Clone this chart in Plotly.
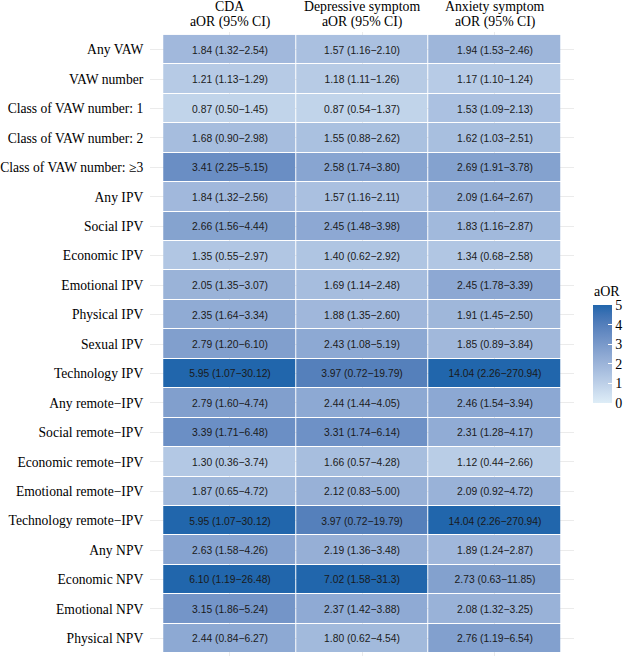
import numpy as np
import plotly.graph_objects as go

rows = ["Any VAW", "VAW number", "Class of VAW number: 1", "Class of VAW number: 2",
        "Class of VAW number: ≥3", "Any IPV", "Social IPV", "Economic IPV", "Emotional IPV",
        "Physical IPV", "Sexual IPV", "Technology IPV", "Any remote−IPV", "Social remote−IPV",
        "Economic remote−IPV", "Emotional remote−IPV", "Technology remote−IPV", "Any NPV",
        "Economic NPV", "Emotional NPV", "Physical NPV"]

column_titles = ["CDA", "Depressive symptom", "Anxiety symptom"]
column_subtitle = "aOR (95% CI)"

cda_aor = ["1.84", "1.21", "0.87", "1.68", "3.41", "1.84", "2.66", "1.35", "2.05", "2.35", "2.79",
           "5.95", "2.79", "3.39", "1.30", "1.87", "5.95", "2.63", "6.10", "3.15", "2.44"]
cda_lo = ["1.32", "1.13", "0.50", "0.90", "2.25", "1.32", "1.56", "0.55", "1.35", "1.64", "1.20",
          "1.07", "1.60", "1.71", "0.36", "0.65", "1.07", "1.58", "1.19", "1.86", "0.84"]
cda_hi = ["2.54", "1.29", "1.45", "2.98", "5.15", "2.56", "4.44", "2.97", "3.07", "3.34", "6.10",
          "30.12", "4.74", "6.48", "3.74", "4.72", "30.12", "4.26", "26.48", "5.24", "6.27"]

dep_aor = ["1.57", "1.18", "0.87", "1.55", "2.58", "1.57", "2.45", "1.40", "1.69", "1.88", "2.43",
           "3.97", "2.44", "3.31", "1.66", "2.12", "3.97", "2.19", "7.02", "2.37", "1.80"]
dep_lo = ["1.16", "1.11", "0.54", "0.88", "1.74", "1.16", "1.48", "0.62", "1.14", "1.35", "1.08",
          "0.72", "1.44", "1.74", "0.57", "0.83", "0.72", "1.36", "1.58", "1.42", "0.62"]
dep_hi = ["2.10", "1.26", "1.37", "2.62", "3.80", "2.11", "3.98", "2.92", "2.48", "2.60", "5.19",
          "19.79", "4.05", "6.14", "4.28", "5.00", "19.79", "3.48", "31.3", "3.88", "4.54"]

anx_aor = ["1.94", "1.17", "1.53", "1.62", "2.69", "2.09", "1.83", "1.34", "2.45", "1.91", "1.85",
           "14.04", "2.46", "2.31", "1.12", "2.09", "14.04", "1.89", "2.73", "2.08", "2.76"]
anx_lo = ["1.53", "1.10", "1.09", "1.03", "1.91", "1.64", "1.16", "0.68", "1.78", "1.45", "0.89",
          "2.26", "1.54", "1.28", "0.44", "0.92", "2.26", "1.24", "0.63", "1.32", "1.19"]
anx_hi = ["2.46", "1.24", "2.13", "2.51", "3.78", "2.67", "2.87", "2.58", "3.39", "2.50", "3.84",
          "270.94", "3.94", "4.17", "2.66", "4.72", "270.94", "2.87", "11.85", "3.25", "6.54"]

colorbar_ticks = [0, 1, 2, 3, 4, 5]

# ---- build matrices ----
series = [(cda_aor, cda_lo, cda_hi), (dep_aor, dep_lo, dep_hi), (anx_aor, anx_lo, anx_hi)]
z = np.array([[float(s[0][i]) for s in series] for i in range(len(rows))])
z = np.clip(z, 0, 5)
text = [[f"{s[0][i]} ({s[1][i]}\u2212{s[2][i]})" for s in series] for i in range(len(rows))]

# ---- Lab-interpolated colour scale (ggplot-like gradient) ----
def hex2rgb(h):
    h = h.lstrip("#")
    return np.array([int(h[i:i + 2], 16) for i in (0, 2, 4)]) / 255.0

def rgb2lab(c):
    c = np.where(c > 0.04045, ((c + 0.055) / 1.055) ** 2.4, c / 12.92)
    M = np.array([[0.4124, 0.3576, 0.1805], [0.2126, 0.7152, 0.0722], [0.0193, 0.1192, 0.9505]])
    xyz = M @ c / np.array([0.95047, 1.0, 1.08883])
    f = np.where(xyz > 0.008856, np.cbrt(xyz), 7.787 * xyz + 16 / 116)
    return np.array([116 * f[1] - 16, 500 * (f[0] - f[1]), 200 * (f[1] - f[2])])

def lab2rgb(lab):
    L, a, b = lab
    fy = (L + 16) / 116
    fx = fy + a / 500
    fz = fy - b / 200
    f = np.array([fx, fy, fz])
    xyz = np.where(f ** 3 > 0.008856, f ** 3, (f - 16 / 116) / 7.787) * np.array([0.95047, 1.0, 1.08883])
    Minv = np.array([[3.2406, -1.5372, -0.4986], [-0.9689, 1.8758, 0.0415], [0.0557, -0.2040, 1.0570]])
    c = Minv @ xyz
    c = np.where(c > 0.0031308, 1.055 * np.clip(c, 0, None) ** (1 / 2.4) - 0.055, 12.92 * c)
    c = np.clip(c, 0, 1)
    return "rgb(%d,%d,%d)" % tuple(np.round(c * 255).astype(int))

low, high = rgb2lab(hex2rgb("#deedf7")), rgb2lab(hex2rgb("#2166ac"))
colorscale = [[t, lab2rgb(low + (high - low) * t)] for t in np.linspace(0, 1, 11)]

serif = "Liberation Serif"
sans = "Liberation Sans"

# plot area geometry (pixels)
W, H = 628, 657
ml, mr, mt, mb = 150, 51, 32, 1
pw, ph = W - ml - mr, H - mt - mb

def py(p):   # pixel row -> paper y
    return (H - mb - p) / ph

def px(p):   # pixel column -> paper x
    return (p - ml) / pw

fig = go.Figure(go.Heatmap(
    z=z, x=list(range(3)), y=list(range(len(rows))),
    text=text, texttemplate="%{text}",
    textfont=dict(family=sans, size=10.3, color="#1a1a1a"),
    colorscale=colorscale, zmin=0, zmax=5, xgap=1, ygap=1,
    hoverinfo="skip",
    colorbar=dict(
        thickness=19, thicknessmode="pixels", len=98, lenmode="pixels",
        x=px(596), xanchor="left", xpad=0, ypad=0,
        y=py(403), yanchor="bottom",
        tickvals=colorbar_ticks, ticktext=[str(v) for v in colorbar_ticks],
        ticks="inside", ticklen=4, tickcolor="white", tickwidth=1,
        tickfont=dict(family=serif, size=14, color="black"),
        outlinewidth=0,
    ),
))

annotations = [dict(text="aOR", x=px(595), y=py(291), xref="paper", yref="paper",
                    xanchor="left", yanchor="middle", showarrow=False,
                    font=dict(family=serif, size=14, color="black"))]
for i, t in enumerate(column_titles):
    annotations.append(dict(text=t, x=i, y=py(7), xref="x", yref="paper",
                            xanchor="center", yanchor="middle", showarrow=False,
                            font=dict(family=serif, size=13.8, color="black")))
    annotations.append(dict(text=column_subtitle, x=i, y=py(22.5), xref="x", yref="paper",
                            xanchor="center", yanchor="middle", showarrow=False,
                            font=dict(family=serif, size=13.8, color="black")))

fig.update_layout(
    width=W, height=H, margin=dict(l=ml, r=mr, t=mt, b=mb),
    plot_bgcolor="white", paper_bgcolor="white",
    annotations=annotations,
    xaxis=dict(range=[-0.6, 2.6], side="top", tickvals=list(range(3)), showticklabels=False,
               showgrid=True, gridcolor="#ebebeb", gridwidth=1, zeroline=False,
               fixedrange=True),
    yaxis=dict(range=[len(rows) - 0.4, -0.6], tickvals=list(range(len(rows))), ticktext=rows,
               tickfont=dict(family=serif, size=13.6, color="black"),
               showgrid=True, gridcolor="#ebebeb", gridwidth=1, zeroline=False,
               ticks="outside", ticklen=3, tickcolor="rgba(0,0,0,0)", fixedrange=True),
)

fig.write_html("out.html")
